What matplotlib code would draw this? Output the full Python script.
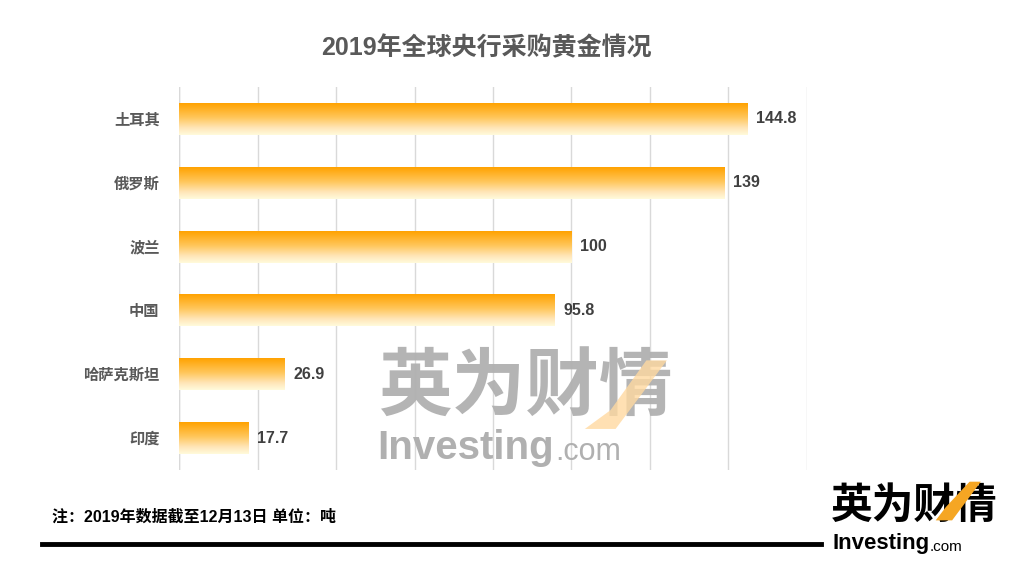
import matplotlib
matplotlib.use("Agg")
import matplotlib.pyplot as plt
import numpy as np
from matplotlib.colors import LinearSegmentedColormap
from matplotlib.patches import Polygon

plt.rcParams["font.family"] = ["Liberation Sans", "Noto Sans CJK SC", "DejaVu Sans"]

TITLE     = "2019年全球央行采购黄金情况"
COUNTRIES = ["土耳其", "俄罗斯", "波兰", "中国", "哈萨克斯坦", "印度"]
TONNES    = [144.8, 139, 100, 95.8, 26.9, 17.7]
LABELS    = ["144.8", "139", "100", "95.8", "26.9", "17.7"]
NOTE      = "注：2019年数据截至12月13日 单位：吨"

grad = LinearSegmentedColormap.from_list(
    "gold", [(0.0, "#FFA200"), (0.45, "#FFC65A"), (0.78, "#FFE6B8"), (1.0, "#FFFBDC")])

fig = plt.figure(figsize=(10.26, 5.86), dpi=100)
ax = fig.add_axes([0.1745, 0.198, 0.612, 0.6536])

y = np.arange(len(COUNTRIES))
bars = ax.barh(y, TONNES, height=0.5, color="none", edgecolor="none", zorder=3)

g = np.linspace(0, 1, 256).reshape(-1, 1)
for bar, lab in zip(bars, LABELS):
    x0, y0 = bar.get_x(), bar.get_y()
    w, h = bar.get_width(), bar.get_height()
    # y axis inverted -> first row of image at the top
    im = ax.imshow(g, cmap=grad, aspect="auto", extent=(x0, x0 + w, y0 + h, y0),
                   zorder=3, interpolation="bilinear")
    im.set_clip_path(bar)
    ax.text(x0 + w + 2.2, y0 + h / 2, lab, va="center", ha="left",
            fontsize=11.5, fontweight="bold", color="#404040", zorder=4)

ax.set_xlim(0, 160)
ax.set_ylim(len(COUNTRIES) - 0.5, -0.5)
ax.set_xticks(np.arange(0, 161, 20))
ax.set_xticklabels([])
ax.set_yticks(y)
ax.set_yticklabels(COUNTRIES, fontsize=11, fontweight="bold", color="#595959")
ax.tick_params(axis="both", length=0)
ax.tick_params(axis="y", pad=14)
ax.grid(axis="x", color="#D9D9D9", linewidth=1, zorder=0)
for s in ax.spines.values():
    s.set_visible(False)
ax.axvline(0, color="#D9D9D9", linewidth=1, zorder=1)

fig.text(0.474, 0.918, TITLE, ha="center", va="center", fontsize=18,
         fontweight="bold", color="#595959")

# watermark
fig.text(0.368, 0.336, "英为财情", ha="left", va="center", fontsize=53,
         fontweight="black", color="#B0B0B0", alpha=0.95, zorder=5)
wm = fig.text(0.368, 0.236, "Investing", ha="left", va="center", fontsize=29,
              fontweight="bold", color="#B0B0B0", zorder=5)
ax.annotate(".com", xy=(1, 0), xycoords=wm, xytext=(1, 0), textcoords="offset points",
            ha="left", va="bottom", fontsize=22, color="#B0B0B0", zorder=5,
            annotation_clip=False)
fig.patches.append(Polygon([[0.570, 0.268], [0.600, 0.268], [0.650, 0.385],
                            [0.630, 0.385], [0.595, 0.300]],
                           closed=True, transform=fig.transFigure,
                           facecolor="#FFD9A0", alpha=0.8, zorder=6))

# footnote & rule
fig.text(0.051, 0.118, NOTE, ha="left", va="center", fontsize=11.5,
         fontweight="bold", color="black")
fig.add_artist(plt.Line2D([0.041, 0.800], [0.071, 0.071], color="black",
                          linewidth=3.5, transform=fig.transFigure))

# logo
fig.text(0.810, 0.135, "英为财情", ha="left", va="center", fontsize=30,
         fontweight="black", color="black")
lg = fig.text(0.811, 0.073, "Investing", ha="left", va="center", fontsize=16,
              fontweight="bold", color="black")
ax.annotate(".com", xy=(1, 0), xycoords=lg, xytext=(0.5, 0), textcoords="offset points",
            ha="left", va="bottom", fontsize=11, color="black",
            annotation_clip=False)
fig.patches.append(Polygon([[0.912, 0.112], [0.928, 0.112], [0.956, 0.178],
                            [0.945, 0.178], [0.922, 0.135]],
                           closed=True, transform=fig.transFigure,
                           facecolor="#F5A623", zorder=6))

fig.savefig("out.png", dpi=100)
